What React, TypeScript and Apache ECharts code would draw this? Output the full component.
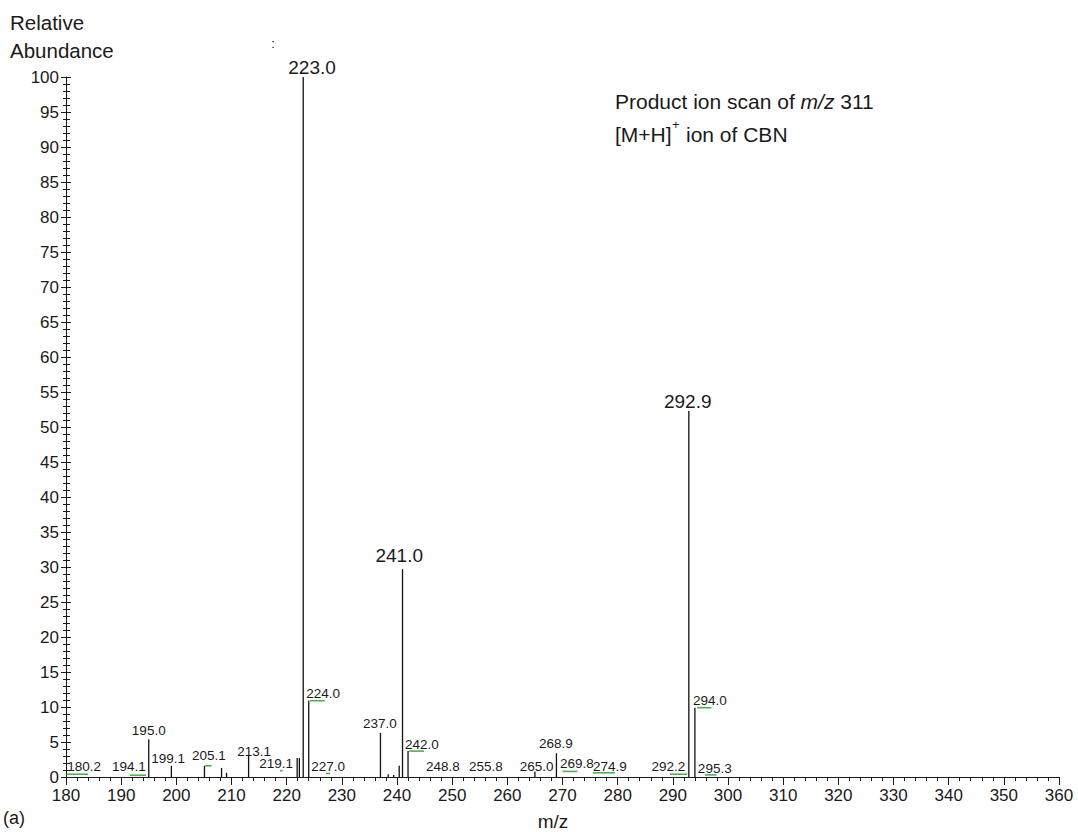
import React, { useEffect, useRef } from "react";
import * as echarts from "echarts";

// Centroid sticks (m/z, relative abundance %)
const peakMz = [195.0, 199.1, 205.1, 208.2, 209.1, 213.1, 221.9, 222.3, 223.0, 224.0, 237.0, 238.4, 239.4, 240.4, 241.0, 242.0, 265.0, 268.9, 292.9, 294.0];
const peakAbundance = [5.4, 1.6, 1.6, 1.3, 0.6, 3.0, 2.7, 2.7, 100, 10.9, 6.3, 0.4, 0.3, 1.6, 29.7, 3.7, 0.8, 3.4, 52.3, 9.9];

// Green label connectors (m/z start, m/z end, abundance level)
const connectorStart = [180.1, 191.6, 205.2, 218.8, 224.2, 227.1, 242.2, 270.0, 275.5, 289.5, 294.4, 295.8];
const connectorEnd = [184.0, 194.5, 206.4, 219.3, 226.9, 227.9, 244.9, 272.7, 279.5, 292.6, 297.0, 297.9];
const connectorLevel = [0.4, 0.25, 1.6, 0.9, 10.9, 0.5, 3.7, 0.8, 0.6, 0.4, 9.9, 0.3];

// Peak labels: text, anchor m/z, anchor abundance
const smallLabelText = ["180.2", "194.1", "195.0", "199.1", "205.1", "213.1", "219.1", "224.0", "227.0", "237.0", "242.0", "248.8", "255.8", "265.0", "268.9", "269.8", "274.9", "292.2", "294.0", "295.3"];
const smallLabelMz = [183.3, 191.4, 195.0, 198.5, 205.9, 214.1, 218.1, 226.6, 227.5, 236.9, 244.5, 248.3, 256.1, 265.3, 268.8, 272.6, 278.6, 289.2, 296.7, 297.6];
const smallLabelY = [1.5, 1.5, 6.6, 2.7, 3.1, 3.6, 2.0, 12.0, 1.5, 7.7, 4.6, 1.5, 1.5, 1.5, 4.8, 2.0, 1.5, 1.5, 10.9, 1.2];

const bigLabelText = ["223.0", "241.0", "292.9"];
const bigLabelMz = [224.6, 240.4, 292.7];
const bigLabelY = [101.4, 31.7, 53.6];

const FONT = "'Liberation Sans', Arial, Helvetica, sans-serif";
const INK = "#1a1a1a";

export default function App() {
  const ref = useRef<HTMLDivElement>(null);

  useEffect(() => {
    if (!ref.current) return;
    const chart = echarts.init(ref.current, undefined, { renderer: "svg" });

    const stickData = peakMz.map((m, i) => [m, peakAbundance[i]]);
    const connectorData = connectorStart.map((s, i) => [s, connectorEnd[i], connectorLevel[i]]);
    const smallLabelData = smallLabelMz.map((m, i) => [m, smallLabelY[i]]);
    const bigLabelData = bigLabelMz.map((m, i) => [m, bigLabelY[i]]);

    const labelSeries = (data: number[][], texts: string[], size: number, id: string) => ({
      type: "custom",
      id,
      clip: false,
      data,
      encode: { x: 0, y: 1 },
      z: 5,
      renderItem: (params: any, api: any) => {
        const p = api.coord([api.value(0), api.value(1)]);
        return {
          type: "text",
          x: p[0],
          y: p[1],
          style: {
            text: texts[params.dataIndex],
            fontSize: size,
            fontFamily: FONT,
            fill: INK,
            align: "center",
            verticalAlign: "middle",
          },
        };
      },
    });

    const option: any = {
      animation: false,
      backgroundColor: "#ffffff",
      grid: { left: 66, right: 19, top: 77, bottom: 55, containLabel: false },
      xAxis: {
        type: "value",
        min: 180,
        max: 360,
        interval: 10,
        axisLine: { show: true, lineStyle: { color: INK, width: 1 } },
        axisTick: { show: true, length: 8, lineStyle: { color: INK } },
        minorTick: { show: true, splitNumber: 5, length: 4, lineStyle: { color: INK } },
        splitLine: { show: false },
        minorSplitLine: { show: false },
        axisLabel: { fontSize: 17, fontFamily: FONT, color: INK, margin: 10 },
      },
      yAxis: [
        {
          type: "value",
          min: 0,
          max: 100,
          interval: 5,
          position: "left",
          axisLine: { show: true, lineStyle: { color: INK, width: 1 } },
          axisTick: { show: true, length: 5, lineStyle: { color: INK } },
          minorTick: { show: true, splitNumber: 5, length: 3, lineStyle: { color: INK } },
          splitLine: { show: false },
          axisLabel: { fontSize: 17, fontFamily: FONT, color: INK, margin: 7 },
        },
        {
          type: "value",
          min: 0,
          max: 100,
          interval: 5,
          position: "left",
          axisLine: { show: false },
          axisTick: { show: true, inside: true, length: 5, lineStyle: { color: INK } },
          minorTick: { show: true, splitNumber: 5, length: 4, lineStyle: { color: INK } },
          splitLine: { show: false },
          axisLabel: { show: false },
        },
      ],
      series: [
        {
          type: "custom",
          id: "sticks",
          clip: false,
          data: stickData,
          encode: { x: 0, y: 1 },
          z: 3,
          renderItem: (_params: any, api: any) => {
            const top = api.coord([api.value(0), api.value(1)]);
            const base = api.coord([api.value(0), 0]);
            return {
              type: "line",
              shape: { x1: top[0], y1: top[1], x2: base[0], y2: base[1] },
              style: { stroke: "#111111", lineWidth: 1.3 },
            };
          },
        },
        {
          type: "custom",
          id: "connectors",
          clip: false,
          data: connectorData,
          encode: { x: [0, 1], y: 2 },
          z: 4,
          renderItem: (_params: any, api: any) => {
            const a = api.coord([api.value(0), api.value(2)]);
            const b = api.coord([api.value(1), api.value(2)]);
            return {
              type: "line",
              shape: { x1: a[0], y1: a[1], x2: b[0], y2: b[1] },
              style: { stroke: "#4cb24c", lineWidth: 1.6 },
            };
          },
        },
        labelSeries(smallLabelData, smallLabelText, 13.5, "smallLabels"),
        labelSeries(bigLabelData, bigLabelText, 19, "bigLabels"),
      ],
      graphic: [
        { type: "text", left: 10, top: 12, style: { text: "Relative", fontSize: 20.5, fontFamily: FONT, fill: INK } },
        { type: "text", left: 10, top: 40, style: { text: "Abundance", fontSize: 20.5, fontFamily: FONT, fill: INK } },
        { type: "text", x: 273, y: 43, style: { text: ":", fontSize: 13, fontFamily: FONT, fill: INK, align: "center", verticalAlign: "middle" } },
        {
          type: "text",
          x: 615,
          y: 101,
          style: {
            text: "{n|Product ion scan of }{i|m/z}{n| 311}",
            fontFamily: FONT,
            fontSize: 21,
            fill: INK,
            verticalAlign: "middle",
            rich: {
              n: { fontSize: 21, fontFamily: FONT, fill: INK },
              i: { fontSize: 21, fontFamily: FONT, fontStyle: "italic", fill: INK },
            },
          },
        },
        { type: "text", x: 615, y: 134, style: { text: "[M+H]", fontSize: 21, fontFamily: FONT, fill: INK, verticalAlign: "middle" } },
        { type: "text", x: 672, y: 124, style: { text: "+", fontSize: 13, fontFamily: FONT, fill: INK, verticalAlign: "middle" } },
        { type: "text", x: 686, y: 134, style: { text: "ion of CBN", fontSize: 21, fontFamily: FONT, fill: INK, verticalAlign: "middle" } },
        { type: "text", x: 553, y: 821, style: { text: "m/z", fontSize: 19, fontFamily: FONT, fill: INK, align: "center", verticalAlign: "middle" } },
        { type: "text", x: 3, y: 818, style: { text: "(a)", fontSize: 18, fontFamily: FONT, fill: INK, verticalAlign: "middle" } },
      ],
    };

    chart.setOption(option);
    return () => chart.dispose();
  }, []);

  return (
    <div
      ref={ref}
      style={{ position: "fixed", left: 0, top: 0, width: 1078, height: 832, background: "#fff" }}
    />
  );
}
